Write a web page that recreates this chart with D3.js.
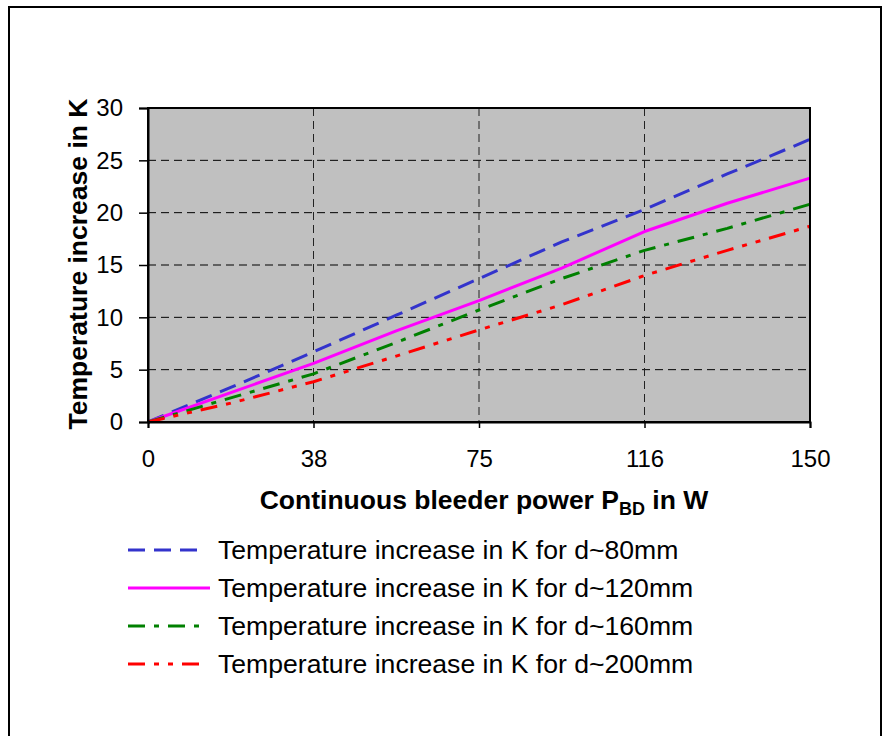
<!DOCTYPE html>
<html>
<head>
<meta charset="utf-8">
<script src="https://cdn.jsdelivr.net/npm/d3@7"></script>
<style>
  html, body { margin: 0; padding: 0; background: #fff; }
  text { font-family: "Liberation Sans", Arial, Helvetica, sans-serif; fill: #000; }
</style>
</head>
<body>
<svg id="chart" width="883" height="736"></svg>
<script>
// ---- data ----
const categories = [0, 1, 2, 3, 4, 5, 6, 7, 8];           // equally spaced category slots
const tickLabels = ["0", "", "38", "", "75", "", "116", "", "150"]; // labelled every 2nd slot
const yTicks = [0, 5, 10, 15, 20, 25, 30];

const seriesNames = [
  "Temperature increase in K for d~80mm",
  "Temperature increase in K for d~120mm",
  "Temperature increase in K for d~160mm",
  "Temperature increase in K for d~200mm"
];
const d80  = [0, 3.3, 6.7, 10.2, 13.7, 17.2, 20.3, 23.7, 27.0];
const d120 = [0, 2.8, 5.6, 8.7, 11.6, 14.7, 18.2, 20.9, 23.3];
const d160 = [0, 2.3, 4.6, 7.6, 10.7, 13.7, 16.4, 18.5, 20.8];
const d200 = [0, 1.8, 3.85, 6.3, 8.8, 11.2, 14.0, 16.4, 18.7];

const seriesValues = [d80, d120, d160, d200];
const seriesColors = ["#3333CC", "#FF00FF", "#008000", "#FF0000"];
const seriesDash = ["17,9", null, "17,9,5,9", "17,9,5,9,5,9"];

// ---- layout ----
const svg = d3.select("#chart");
const plot = { left: 148, right: 810, top: 108, bottom: 422 };

// outer frame
svg.append("rect")
  .attr("x", 9).attr("y", 7).attr("width", 872).attr("height", 760)
  .attr("fill", "none").attr("stroke", "#000").attr("stroke-width", 2);

const x = d3.scalePoint().domain(categories).range([plot.left, plot.right]);
const y = d3.scaleLinear().domain([0, 30]).range([plot.bottom, plot.top]);

// plot background
svg.append("rect")
  .attr("x", plot.left).attr("y", plot.top)
  .attr("width", plot.right - plot.left).attr("height", plot.bottom - plot.top)
  .attr("fill", "#C0C0C0");

// horizontal grid
svg.append("g").selectAll("line")
  .data(yTicks.filter(v => v > 0 && v < 30))
  .join("line")
  .attr("x1", plot.left).attr("x2", plot.right)
  .attr("y1", d => y(d)).attr("y2", d => y(d))
  .attr("stroke", "#000").attr("stroke-width", 1)
  .attr("stroke-dasharray", "8,5");

// vertical grid (labelled categories)
svg.append("g").selectAll("line")
  .data(categories.filter((c, i) => tickLabels[i] !== "" && i > 0 && i < categories.length - 1))
  .join("line")
  .attr("x1", d => x(d)).attr("x2", d => x(d))
  .attr("y1", plot.top).attr("y2", plot.bottom)
  .attr("stroke", "#222").attr("stroke-width", 1)
  .attr("stroke-dasharray", "8,5");

// series lines
const line = d3.line().x((d, i) => x(categories[i])).y(d => y(d));
seriesValues.forEach((vals, k) => {
  svg.append("path")
    .datum(vals)
    .attr("d", line)
    .attr("fill", "none")
    .attr("stroke", seriesColors[k])
    .attr("stroke-width", 3)
    .attr("stroke-dasharray", seriesDash[k])
    .attr("stroke-linejoin", "round");
});

// plot border
svg.append("rect")
  .attr("x", plot.left).attr("y", plot.top)
  .attr("width", plot.right - plot.left).attr("height", plot.bottom - plot.top)
  .attr("fill", "none").attr("stroke", "#000").attr("stroke-width", 2);

// y axis
const yAxis = d3.axisLeft(y).tickValues(yTicks).tickSize(9).tickPadding(16);
const gy = svg.append("g").attr("transform", `translate(${plot.left},0)`).call(yAxis);
gy.select(".domain").attr("stroke", "#000").attr("stroke-width", 2);
gy.selectAll(".tick line").attr("stroke", "#000").attr("stroke-width", 1.5);
gy.selectAll(".tick text").attr("font-size", 24).attr("font-family", "Liberation Sans, Arial, sans-serif");

// x axis
const xAxis = d3.axisBottom(x)
  .tickValues(categories.filter((c, i) => tickLabels[i] !== ""))
  .tickFormat(d => tickLabels[categories.indexOf(d)])
  .tickSize(6).tickPadding(22);
const gx = svg.append("g").attr("transform", `translate(0,${plot.bottom})`).call(xAxis);
gx.select(".domain").attr("stroke", "#000").attr("stroke-width", 2);
gx.selectAll(".tick line").attr("stroke", "#000").attr("stroke-width", 1.5);
gx.selectAll(".tick text").attr("font-size", 24).attr("font-family", "Liberation Sans, Arial, sans-serif");

// axis titles
const xt = svg.append("text")
  .attr("x", 484).attr("y", 509)
  .attr("text-anchor", "middle").attr("font-size", 26.5).attr("font-weight", "bold");
xt.append("tspan").text("Continuous bleeder power P");
xt.append("tspan").attr("font-size", 18).attr("dy", 6).text("BD");
xt.append("tspan").attr("dy", -6).text(" in W");

svg.append("text")
  .attr("transform", `translate(87,${(plot.top + plot.bottom) / 2 - 1}) rotate(-90)`)
  .attr("text-anchor", "middle").attr("font-size", 26.5).attr("font-weight", "bold")
  .text("Temperature increase in K");

// legend
const legendY = [550, 588, 626, 664];
const leg = svg.append("g");
seriesNames.forEach((name, k) => {
  leg.append("line")
    .attr("x1", 128).attr("x2", k === 1 ? 210 : 206)
    .attr("y1", legendY[k]).attr("y2", legendY[k])
    .attr("stroke", seriesColors[k]).attr("stroke-width", 3)
    .attr("stroke-dasharray", seriesDash[k]);
  leg.append("text")
    .attr("x", 218).attr("y", legendY[k] + 9)
    .attr("font-size", 26.6)
    .text(name);
});
</script>
</body>
</html>
